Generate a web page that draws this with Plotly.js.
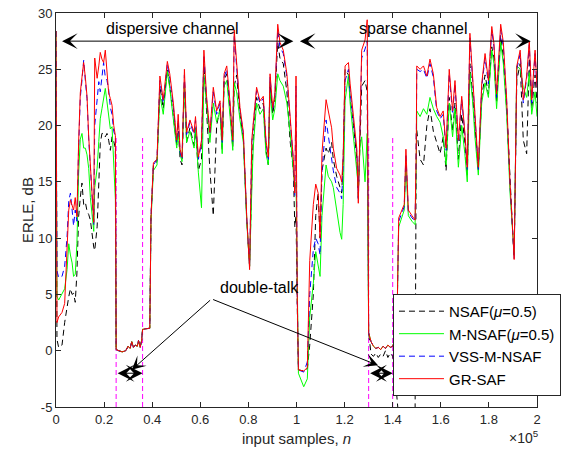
<!DOCTYPE html>
<html>
<head>
<meta charset="utf-8">
<script src="https://cdn.plot.ly/plotly-3.0.1.min.js"></script>
<style>html,body{margin:0;padding:0;background:#fff;}#chart{width:575px;height:455px;}</style>
</head>
<body>
<div id="chart"></div>
<script>
// input samples n
const samples = [
 0,400,1100,2500,3600,4600,5300,6000,6700,7300,8000,8700,9400,10100,10800,11500,12200,12900,13600,14300,15000,15700,16100,17100,17800,18400,19100,19800,20500,21200,21900,22600,23300,24000,24700,
 25000,26000,27500,29000,30000,30800,31500,32200,33000,33800,34300,35000,35600,36000,38000,39000,
 39500,40500,42000,43200,44600,46300,47300,48800,50200,50800,51600,52400,53400,54300,55700,57400,58000,59200,60500,61500,62600,64000,65400,66800,68200,69100,69900,71000,72300,73500,74100,75100,76500,77900,79300,80500,81400,82000,83400,84800,86200,87300,88300,89000,90100,91000,92200,93100,94500,96000,97300,98700,99300,99800,
 100300,100800,103000,104500,105500,107000,108000,109000,109800,110600,112300,113200,114600,115300,116700,118100,118800,119400,120200,121600,122300,123700,125100,125700,126400,127100,128500,129400,
 130000,131000,132000,133000,134000,135000,136000,137000,138000,139000,140000,141000,141700,
 142500,144000,144800,145500,146500,148000,149300,149800,
 150000,151400,152800,154200,155500,156900,158300,159700,161000,162200,163500,164900,165900,167300,168700,170000,171000,172100,173300,174200,175600,177000,178400,179800,181200,182100,183200,184900,186000,187400,188800,189900,190500,191600,193000,194300,195700,196800,197800,199200,200000
];
// ERLE (dB) per algorithm
const erleNSAF = [
 28.4,1.0,0.3,0.5,2.5,4.0,4.8,5.5,5.0,5.1,4.3,6.9,11.9,13.6,14.9,13.0,13.2,12.4,12.1,11.6,10.1,9.2,8.9,11.0,14.9,18.4,19.3,19.3,19.0,19.3,18.7,17.8,19.0,18.6,18.0,
 0.1,0.0,-0.1,0.0,0.4,0.2,0.8,0.3,0.5,0.4,0.9,0.3,0.9,1.9,2.0,2.0,
 11.9,16.5,16.8,23.5,21.5,25.0,23.5,21.0,18.3,20.0,17.0,16.5,24.0,18.5,19.8,18.2,19.5,16.0,17.0,25.5,21.0,16.0,12.0,20.0,21.5,17.8,24.0,24.6,21.5,18.0,23.5,24.5,21.0,18.8,11.7,7.5,15.0,19.0,22.5,21.5,22.0,17.8,16.5,23.8,21.0,22.3,27.4,26.0,25.5,23.0,18.7,16.0,11.0,12.0,
 4.0,-1.7,-1.8,-1.6,0.5,5.0,12.0,14.0,10.0,16.0,18.0,17.5,18.5,17.0,15.5,14.5,14.0,17.0,25.0,24.5,22.5,20.0,17.0,13.5,19.5,23.5,24.0,23.0,
 1.6,-0.3,-0.5,-0.2,-0.6,-0.3,-0.5,0.0,-0.6,-0.2,-0.5,-1.5,-4.0,
 -6,-6,-6,-6,-6,-6,-6,19.6,
 19.6,17.0,16.5,20.0,21.5,19.5,18.5,17.5,19.0,16.0,22.5,19.5,22.0,17.0,21.0,18.5,15.5,25.5,22.5,20.0,16.0,22.5,24.5,22.8,27.0,26.0,22.0,28.0,26.0,21.5,14.5,10.5,8.3,24.0,25.5,18.7,17.5,26.0,21.5,24.5,22.0
];
const erleMNSAF = [
 28.4,4.8,4.5,5.1,5.5,7.2,9.5,8.5,7.8,6.6,6.8,9.5,15.7,18.8,19.3,18.0,18.0,17.4,16.2,13.6,11.9,10.6,14.5,16.2,18.6,20.6,21.5,22.4,23.3,22.1,20.6,19.7,19.9,17.0,13.4,
 0.1,0.0,-0.1,0.0,0.4,0.2,0.8,0.3,0.5,0.4,0.9,0.3,0.9,1.9,2.0,2.0,
 11.5,16.0,16.5,22.7,21.0,24.8,23.3,20.5,18.0,19.3,17.5,16.8,23.5,18.5,19.5,18.0,19.8,15.8,12.7,24.5,21.5,18.5,22.0,20.3,21.3,17.5,23.5,24.0,21.0,17.8,23.8,23.0,20.5,18.5,11.5,7.5,14.2,18.0,22.0,21.0,21.5,17.5,16.5,23.0,20.5,21.5,24.6,24.0,23.5,22.0,19.5,15.5,14.4,15.0,
 3.0,-2.0,-3.2,-2.5,3.0,6.0,8.8,7.5,6.6,12.0,16.5,15.5,15.0,14.5,12.4,10.5,9.9,13.0,22.2,24.5,22.0,19.0,16.0,14.6,18.0,19.0,15.0,19.3,
 1.6,0.8,0.4,0.2,0.3,0.1,0.4,0.2,0.5,0.3,0.4,1.0,1.6,
 11.0,12.0,12.5,16.5,12.0,11.5,11.2,16.0,
 21.3,20.8,21.5,21.0,22.5,21.5,20.8,20.3,19.0,16.5,22.0,19.0,21.5,16.3,20.0,17.5,15.0,24.7,22.0,19.0,15.6,22.0,23.8,22.5,26.7,25.5,21.5,27.4,25.5,21.0,14.0,10.5,8.5,25.3,25.0,23.4,22.5,24.7,21.0,23.0,20.8
];
const erleVSS = [
 28.4,7.1,6.5,6.6,7.5,10.1,13.3,14.0,12.5,11.1,12.5,11.5,18.0,22.5,24.0,25.8,24.0,22.4,18.8,16.0,13.5,11.2,20.0,22.4,23.9,23.0,24.3,25.6,24.3,24.0,23.2,21.6,21.0,19.5,19.0,
 0.1,0.0,-0.1,0.0,0.4,0.2,0.8,0.3,0.5,0.4,0.9,0.3,0.9,1.9,2.0,2.0,
 11.9,16.5,17.0,24.0,22.0,25.5,24.2,21.6,18.5,20.5,17.6,17.0,24.5,19.2,20.3,19.2,20.5,17.0,18.4,26.3,22.3,19.2,23.0,21.0,22.0,18.5,24.3,25.0,22.0,18.6,28.0,25.0,21.4,19.2,11.8,7.5,18.5,20.0,23.1,22.0,22.4,18.5,17.0,24.3,21.4,22.6,28.5,27.0,26.4,24.3,20.6,16.8,13.8,23.5,
 5.0,-1.7,-1.9,-1.0,5.0,9.0,10.0,9.5,8.5,16.0,20.5,19.0,17.0,16.0,14.5,14.0,13.5,16.5,24.0,25.0,23.0,20.3,17.5,13.5,20.0,26.0,26.8,27.5,
 1.6,0.8,0.4,0.2,0.3,0.1,0.4,0.2,0.5,0.3,0.4,1.0,1.6,
 11.5,12.3,12.8,17.5,12.3,11.8,11.5,17.5,
 25.0,24.8,25.0,24.2,25.5,24.3,21.3,20.6,21.0,17.8,24.6,21.0,23.7,18.5,22.3,19.2,16.1,27.8,24.0,20.8,16.1,23.4,26.0,23.7,28.5,27.0,22.5,28.5,27.0,22.0,14.6,10.5,8.2,25.0,26.4,22.0,24.2,27.2,22.0,26.4,23.2
];
const erleGRSAF = [
 28.4,2.5,3.0,3.4,4.2,10.1,12.5,13.4,12.8,12.5,13.6,11.9,18.5,22.9,24.3,25.6,24.3,22.6,19.0,16.1,13.7,11.4,26.0,24.2,25.3,26.5,25.9,25.6,26.7,24.7,22.9,22.4,21.8,20.0,19.1,
 0.1,0.0,-0.1,0.0,0.4,0.2,0.8,0.3,0.5,0.4,0.9,0.3,0.9,1.9,2.0,2.0,
 11.9,16.7,17.0,24.4,22.3,25.7,24.6,22.0,18.7,21.0,17.9,17.2,25.0,19.4,20.5,19.4,20.8,17.2,18.7,26.7,22.6,19.4,23.4,21.3,22.2,18.7,24.6,25.3,22.2,18.7,28.5,25.3,21.6,19.4,11.9,7.2,18.7,20.2,23.4,22.2,22.6,18.7,17.2,24.6,21.6,22.8,29.0,27.4,26.7,24.6,20.8,17.0,14.0,24.4,
 5.0,-1.7,-1.8,-1.5,8.0,13.0,14.8,14.0,10.0,17.6,22.3,21.3,19.8,18.0,16.2,15.6,15.0,17.2,25.3,25.6,23.7,20.8,17.9,13.1,20.8,26.7,27.6,29.4,
 1.6,0.8,0.4,0.2,0.3,0.1,0.4,0.2,0.5,0.3,0.4,1.0,1.6,
 11.8,12.5,13.0,17.9,12.5,12.0,11.6,18.0,
 25.3,25.0,25.3,24.4,25.9,24.6,21.6,20.8,21.3,18.0,25.0,21.3,24.0,18.7,22.6,19.4,16.3,28.2,24.4,21.0,16.3,23.7,26.4,24.0,28.8,27.3,22.8,29.0,27.4,22.3,14.8,10.6,8.1,25.3,26.7,22.3,24.4,27.5,22.3,26.7,23.4
];
const seriesNames = ['NSAF(<i>μ</i>=0.5)','M-NSAF(<i>μ</i>=0.5)','VSS-M-NSAF','GR-SAF'];
// double-talk intervals (start, end) and marker heights
const dtStart = [25000, 130000];
const dtEnd = [36000, 140000];
const dtLineTop = 19;
const dtArrowLevel = -2;
// channel segments
const channelNames = ['dispersive channel','sparse channel'];
const channelFrom = [1900, 100800];
const channelTo = [98700, 197400];
const channelArrowLevel = 27.5;
const xTickVals = [0,20000,40000,60000,80000,100000,120000,140000,160000,180000,200000];
const xTickText = ['0','0.2','0.4','0.6','0.8','1','1.2','1.4','1.6','1.8','2'];
const yTickVals = [-5,0,5,10,15,20,25,30];
const yTickText = ['-5','0','5','10','15','20','25','30'];

const FONT = 'Liberation Sans, Arial, Helvetica, sans-serif';
const AX = '#262626';

const traces = [];
// magenta double-talk boundaries
const dtX = [], dtY = [];
for (let i = 0; i < dtStart.length; i++) {
  dtX.push(dtStart[i], dtStart[i], null, dtEnd[i], dtEnd[i], null);
  dtY.push(-5, dtLineTop, null, -5, dtLineTop, null);
}
traces.push({x: dtX, y: dtY, mode: 'lines', showlegend: false, hoverinfo: 'skip',
  line: {color: '#FF00FF', width: 1, dash: '5px,3px'}});

const styles = [
  {color: '#000000', dash: '6px,4px'},
  {color: '#00FF00', dash: 'solid'},
  {color: '#0000FF', dash: '6px,4px'},
  {color: '#FF0000', dash: 'solid'}
];
const data = [erleNSAF, erleMNSAF, erleVSS, erleGRSAF];
for (let i = 0; i < 4; i++) {
  traces.push({x: samples, y: data[i], mode: 'lines', name: seriesNames[i],
    line: {color: styles[i].color, width: 1, dash: styles[i].dash}});
}

const ann = [];
function dbl(x0, x1, y, size) {
  ann.push({x: x1, y: y, ax: x0, ay: y, xref: 'x', yref: 'y', axref: 'x', ayref: 'y',
    text: '', showarrow: true, arrowside: 'end+start', arrowhead: 3, startarrowhead: 3,
    arrowsize: size, startarrowsize: size, arrowwidth: 1, arrowcolor: '#000'});
}
const channelLabelX = [48500, 148600];
for (let i = 0; i < 2; i++) {
  dbl(channelFrom[i], channelTo[i], channelArrowLevel, 2.6);
  ann.push({x: channelLabelX[i], y: 28.6, xref: 'x', yref: 'y',
    text: channelNames[i], showarrow: false, font: {family: FONT, size: 16, color: '#000'}});
}
for (let i = 0; i < 2; i++) {
  dbl(dtStart[i], dtEnd[i], dtArrowLevel, 2.8);
}
// double-talk pointers
const dtLabelPos = [64700, 4.6];
const dtPointX = [31500, 133900];
const dtPointY = [-1.7, -1.3];
for (let i = 0; i < 2; i++) {
  ann.push({x: dtPointX[i], y: dtPointY[i], ax: dtLabelPos[0], ay: dtLabelPos[1], xref: 'x', yref: 'y', axref: 'x', ayref: 'y',
    text: '', showarrow: true, arrowhead: 3, arrowsize: 2.3, arrowwidth: 1, arrowcolor: '#000'});
}
ann.push({x: 84800, y: 5.6, xref: 'x', yref: 'y', text: 'double-talk', showarrow: false,
  font: {family: FONT, size: 16, color: '#000'}});
// x10^5 exponent
ann.push({x: 0.973, y: -0.077, xref: 'paper', yref: 'paper', xanchor: 'center', yanchor: 'middle',
  text: '×10<sup>5</sup>', showarrow: false, font: {family: FONT, size: 14, color: AX}});

const layout = {
  width: 575, height: 455,
  margin: {l: 56, r: 38, t: 13, b: 48},
  paper_bgcolor: '#fff', plot_bgcolor: '#fff',
  font: {family: FONT, size: 13, color: AX},
  showlegend: true,
  legend: {x: 0.7006, y: 0.287, xanchor: 'left', yanchor: 'top', bgcolor: '#fff',
    bordercolor: AX, borderwidth: 1, font: {family: FONT, size: 15, color: '#000'},
    itemwidth: 45, tracegroupgap: 0},
  xaxis: {range: [0, 200000], tickvals: xTickVals, ticktext: xTickText, ticks: 'inside', ticklen: 5,
    tickcolor: AX, showline: true, linecolor: AX, linewidth: 1, mirror: 'ticks', showgrid: false, zeroline: false,
    tickfont: {family: FONT, size: 13, color: AX},
    title: {text: 'input samples, <i>n</i>', font: {family: FONT, size: 15, color: AX}, standoff: 7}},
  yaxis: {range: [-5, 30], tickvals: yTickVals, ticktext: yTickText, ticks: 'inside', ticklen: 5,
    tickcolor: AX, showline: true, linecolor: AX, linewidth: 1, mirror: 'ticks', showgrid: false, zeroline: false,
    tickfont: {family: FONT, size: 13, color: AX},
    title: {text: 'ERLE, dB', font: {family: FONT, size: 15, color: AX}, standoff: 0}},
  annotations: ann
};
Plotly.newPlot('chart', traces, layout, {staticPlot: true});
</script>
</body>
</html>
